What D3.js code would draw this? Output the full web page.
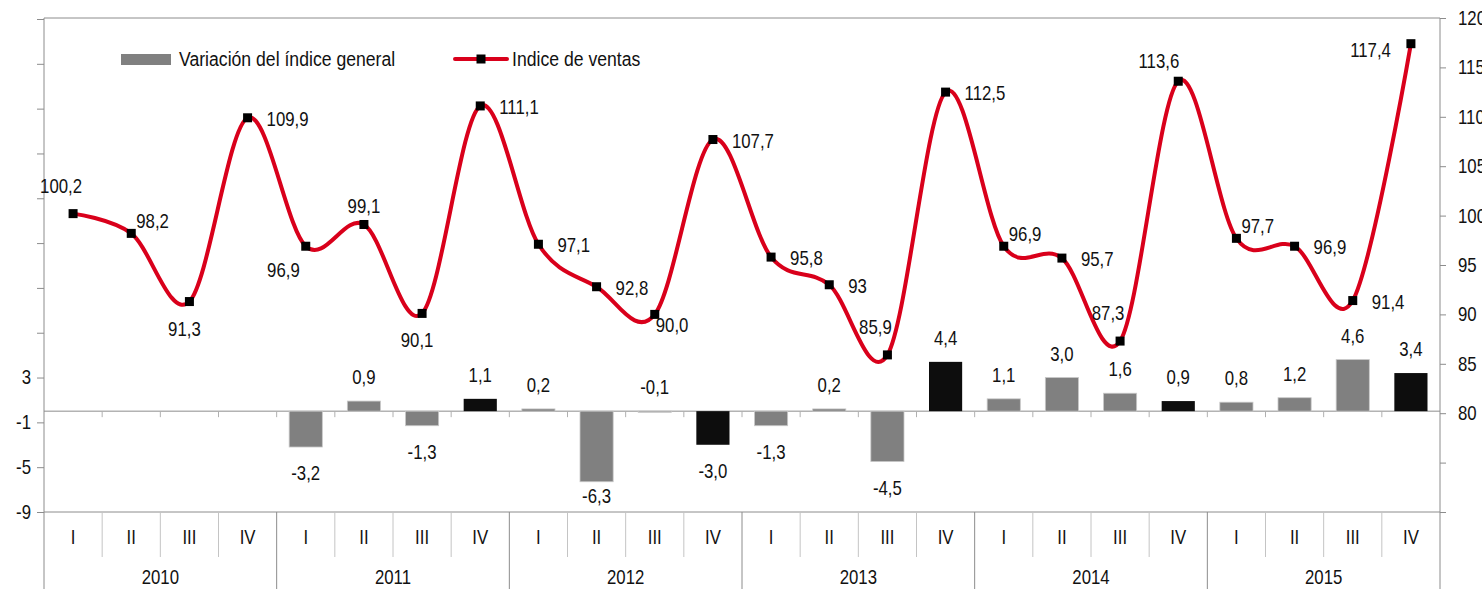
<!DOCTYPE html>
<html>
<head>
<meta charset="utf-8">
<script src="https://cdnjs.cloudflare.com/ajax/libs/d3/7.8.5/d3.min.js"></script>
<style>
  body { margin: 0; background: #fff; }
  svg text { font-family: "Liberation Sans", Arial, sans-serif; font-size: 20px; fill: #111; }
</style>
</head>
<body>
<div id="chart"></div>
<script>
// data
var years = ["2010", "2011", "2012", "2013", "2014", "2015"];
var quarters = ["I", "II", "III", "IV"];
var indexValues = [100.2, 98.2, 91.3, 109.9, 96.9, 99.1, 90.1, 111.1, 97.1, 92.8, 90.0, 107.7,
                   95.8, 93, 85.9, 112.5, 96.9, 95.7, 87.3, 113.6, 97.7, 96.9, 91.4, 117.4];
var variation = [null, null, null, null, -3.2, 0.9, -1.3, 1.1, 0.2, -6.3, -0.1, -3.0,
                 -1.3, 0.2, -4.5, 4.4, 1.1, 3.0, 1.6, 0.9, 0.8, 1.2, 4.6, 3.4];
var leftTicks = [-9, -5, -1, 3];
var rightTicks = [80, 85, 90, 95, 100, 105, 110, 115, 120];
// where each index label sits around its point
var labelPlace = ["NL", "NE", "S", "E", "SW", "N", "S", "E", "E", "E", "SE", "E",
                  "E", "E", "NL", "E", "NE", "E", "NL", "NW", "NE", "E", "E", "W"];

var width = 1482, height = 589;
var plotLeft = 44, plotRight = 1440, plotTop = 18, catLine = 512;
var narrow = 0.84;   // the original uses a narrow face

var points = [];
years.forEach(function(y, yi){
    quarters.forEach(function(q, qi){
        var i = yi * 4 + qi;
        points.push({i: i, year: y, q: q, index: indexValues[i], v: variation[i]});
    });
});

var svg = d3.select("#chart").append("svg")
            .attr("width", width)
            .attr("height", height);

var x = d3.scaleBand().domain(d3.range(points.length)).range([plotLeft, plotRight]).padding(0);
var yL = d3.scaleLinear().domain([-9, 35]).range([catLine, plotTop + 1]);
var yR = d3.scaleLinear().domain([70, 120]).range([catLine, plotTop]);
var fmt1 = function(v){ return v.toFixed(1).replace(".", ","); };

var axisColor = "#8c8c8c";

// frame
svg.append("line").attr("x1", plotLeft).attr("x2", plotRight).attr("y1", plotTop).attr("y2", plotTop)
   .attr("stroke", axisColor);
svg.append("line").attr("x1", plotLeft).attr("x2", plotLeft).attr("y1", plotTop).attr("y2", height)
   .attr("stroke", axisColor);
svg.append("line").attr("x1", plotRight).attr("x2", plotRight).attr("y1", plotTop).attr("y2", height)
   .attr("stroke", axisColor);

// left axis
var yAxisL = d3.axisLeft(yL)
               .tickValues(d3.range(-9, 36, 4))
               .tickSize(7)
               .tickPadding(6)
               .tickFormat(function(d){ return leftTicks.indexOf(d) >= 0 ? d : ""; });
var gL = svg.append("g").attr("transform", "translate(" + plotLeft + ",0)").call(yAxisL);
gL.select(".domain").remove();
gL.selectAll(".tick line").attr("stroke", axisColor);

// right axis
var yAxisR = d3.axisRight(yR)
               .tickValues(d3.range(70, 121, 5))
               .tickSize(6)
               .tickPadding(12)
               .tickFormat(function(d){ return rightTicks.indexOf(d) >= 0 ? d : ""; });
var gR = svg.append("g").attr("transform", "translate(" + plotRight + ",0)").call(yAxisR);
gR.select(".domain").remove();
gR.selectAll(".tick line").attr("stroke", axisColor);
[gL, gR].forEach(function(g){
    g.attr("font-size", null).attr("font-family", null);
    g.selectAll(".tick text").attr("fill", "#111");
});

// category axis
svg.append("line").attr("x1", plotLeft).attr("x2", plotRight).attr("y1", catLine).attr("y2", catLine)
   .attr("stroke", axisColor);
var bounds = d3.range(1, points.length);
svg.selectAll(".sep").data(bounds).enter().append("line")
   .attr("x1", function(d){ return x(d); })
   .attr("x2", function(d){ return x(d); })
   .attr("y1", catLine)
   .attr("y2", function(d){ return d % 4 === 0 ? height : 557; })
   .attr("stroke", function(d){ return d % 4 === 0 ? axisColor : "#c4c4c4"; });

svg.selectAll(".qlab").data(points).enter().append("text")
   .attr("x", function(d){ return x(d.i) + x.bandwidth() / 2; })
   .attr("y", 544)
   .attr("text-anchor", "middle")
   .text(function(d){ return d.q; });

svg.selectAll(".ylab").data(years).enter().append("text")
   .attr("x", function(d, i){ return x(i * 4) + x.bandwidth() * 2; })
   .attr("y", 584)
   .attr("text-anchor", "middle")
   .text(function(d){ return d; });

// zero line with small ticks
var y0 = yL(0);
svg.append("line").attr("x1", plotLeft).attr("x2", plotRight).attr("y1", y0).attr("y2", y0)
   .attr("stroke", axisColor);
svg.selectAll(".zt").data(bounds).enter().append("line")
   .attr("x1", function(d){ return x(d); })
   .attr("x2", function(d){ return x(d); })
   .attr("y1", y0).attr("y2", y0 + 6)
   .attr("stroke", "#b0b0b0");

// bars
var barData = points.filter(function(d){ return d.v !== null; });
var bw = x.bandwidth() * 0.57;
svg.selectAll(".bar").data(barData).enter().append("rect")
   .attr("x", function(d){ return x(d.i) + (x.bandwidth() - bw) / 2; })
   .attr("width", bw)
   .attr("y", function(d){ return Math.min(yL(d.v), y0); })
   .attr("height", function(d){ return Math.abs(yL(d.v) - y0); })
   .attr("fill", function(d){ return d.q === "IV" ? "#0d0d0d" : "#808080"; })
   .attr("stroke", function(d){ return d.q === "IV" ? "none" : "#c8c8c8"; })
   .attr("stroke-width", 0.8);

svg.selectAll(".blab").data(barData).enter().append("text")
   .attr("x", function(d){ return x(d.i) + x.bandwidth() / 2; })
   .attr("y", function(d){
       var yy = yL(d.v);
       if (d.v >= 0 || yy - y0 < 3) return Math.min(yy, y0) - 24 + 7;
       return Math.min(yy + 26, 496) + 7;
   })
   .attr("text-anchor", "middle")
   .text(function(d){ return fmt1(d.v); });

// index line
var line = d3.line()
             .x(function(d){ return x(d.i) + x.bandwidth() / 2; })
             .y(function(d){ return yR(d.index); })
             .curve(d3.curveCardinal.tension(0));
svg.append("path")
   .attr("d", line(points))
   .attr("fill", "none")
   .attr("stroke", "#d9001b")
   .attr("stroke-width", 4);

svg.selectAll(".mk").data(points).enter().append("rect")
   .attr("x", function(d){ return x(d.i) + x.bandwidth() / 2 - 4.5; })
   .attr("y", function(d){ return yR(d.index) - 4.5; })
   .attr("width", 9).attr("height", 9)
   .attr("fill", "#000");

var place = {
    N:  {a: "middle", dx: 0,   dy: -18},
    NL: {a: "middle", dx: -12, dy: -28},
    S:  {a: "middle", dx: -5,  dy: 27},
    E:  {a: "start",  dx: 19,  dy: 1},
    NE: {a: "start",  dx: 5,   dy: -12},
    SE: {a: "start",  dx: 1,   dy: 11},
    SW: {a: "end",    dx: -6,  dy: 24},
    NW: {a: "end",    dx: 1,   dy: -20},
    W:  {a: "end",    dx: -20, dy: 6}
};
svg.selectAll(".llab").data(points).enter().append("text")
   .attr("x", function(d){ return x(d.i) + x.bandwidth() / 2 + place[labelPlace[d.i]].dx; })
   .attr("y", function(d){ return yR(d.index) + place[labelPlace[d.i]].dy + 7; })
   .attr("text-anchor", function(d){ return place[labelPlace[d.i]].a; })
   .text(function(d){ return d.index === 93 ? "93" : fmt1(d.index); });

// legend
var lg = svg.append("g");
lg.append("rect").attr("x", 121).attr("y", 54).attr("width", 50).attr("height", 11).attr("fill", "#808080");
lg.append("text").attr("x", 179).attr("y", 66).style("font-size", "21px").text("Variación del índice general");
lg.append("line").attr("x1", 455).attr("x2", 507).attr("y1", 59).attr("y2", 59)
  .attr("stroke", "#d9001b").attr("stroke-width", 4).attr("stroke-linecap", "round");
lg.append("rect").attr("x", 476.5).attr("y", 54.5).attr("width", 9).attr("height", 9).attr("fill", "#000");
lg.append("text").attr("x", 512).attr("y", 66).style("font-size", "21px").text("Indice de ventas");

// squeeze every text horizontally around its own x
svg.selectAll("text").each(function(){
    var t = d3.select(this);
    var tx = +t.attr("x") || 0;
    t.attr("transform", "translate(" + tx + ",0) scale(" + narrow + ",1) translate(" + (-tx) + ",0)");
});
</script>
</body>
</html>
